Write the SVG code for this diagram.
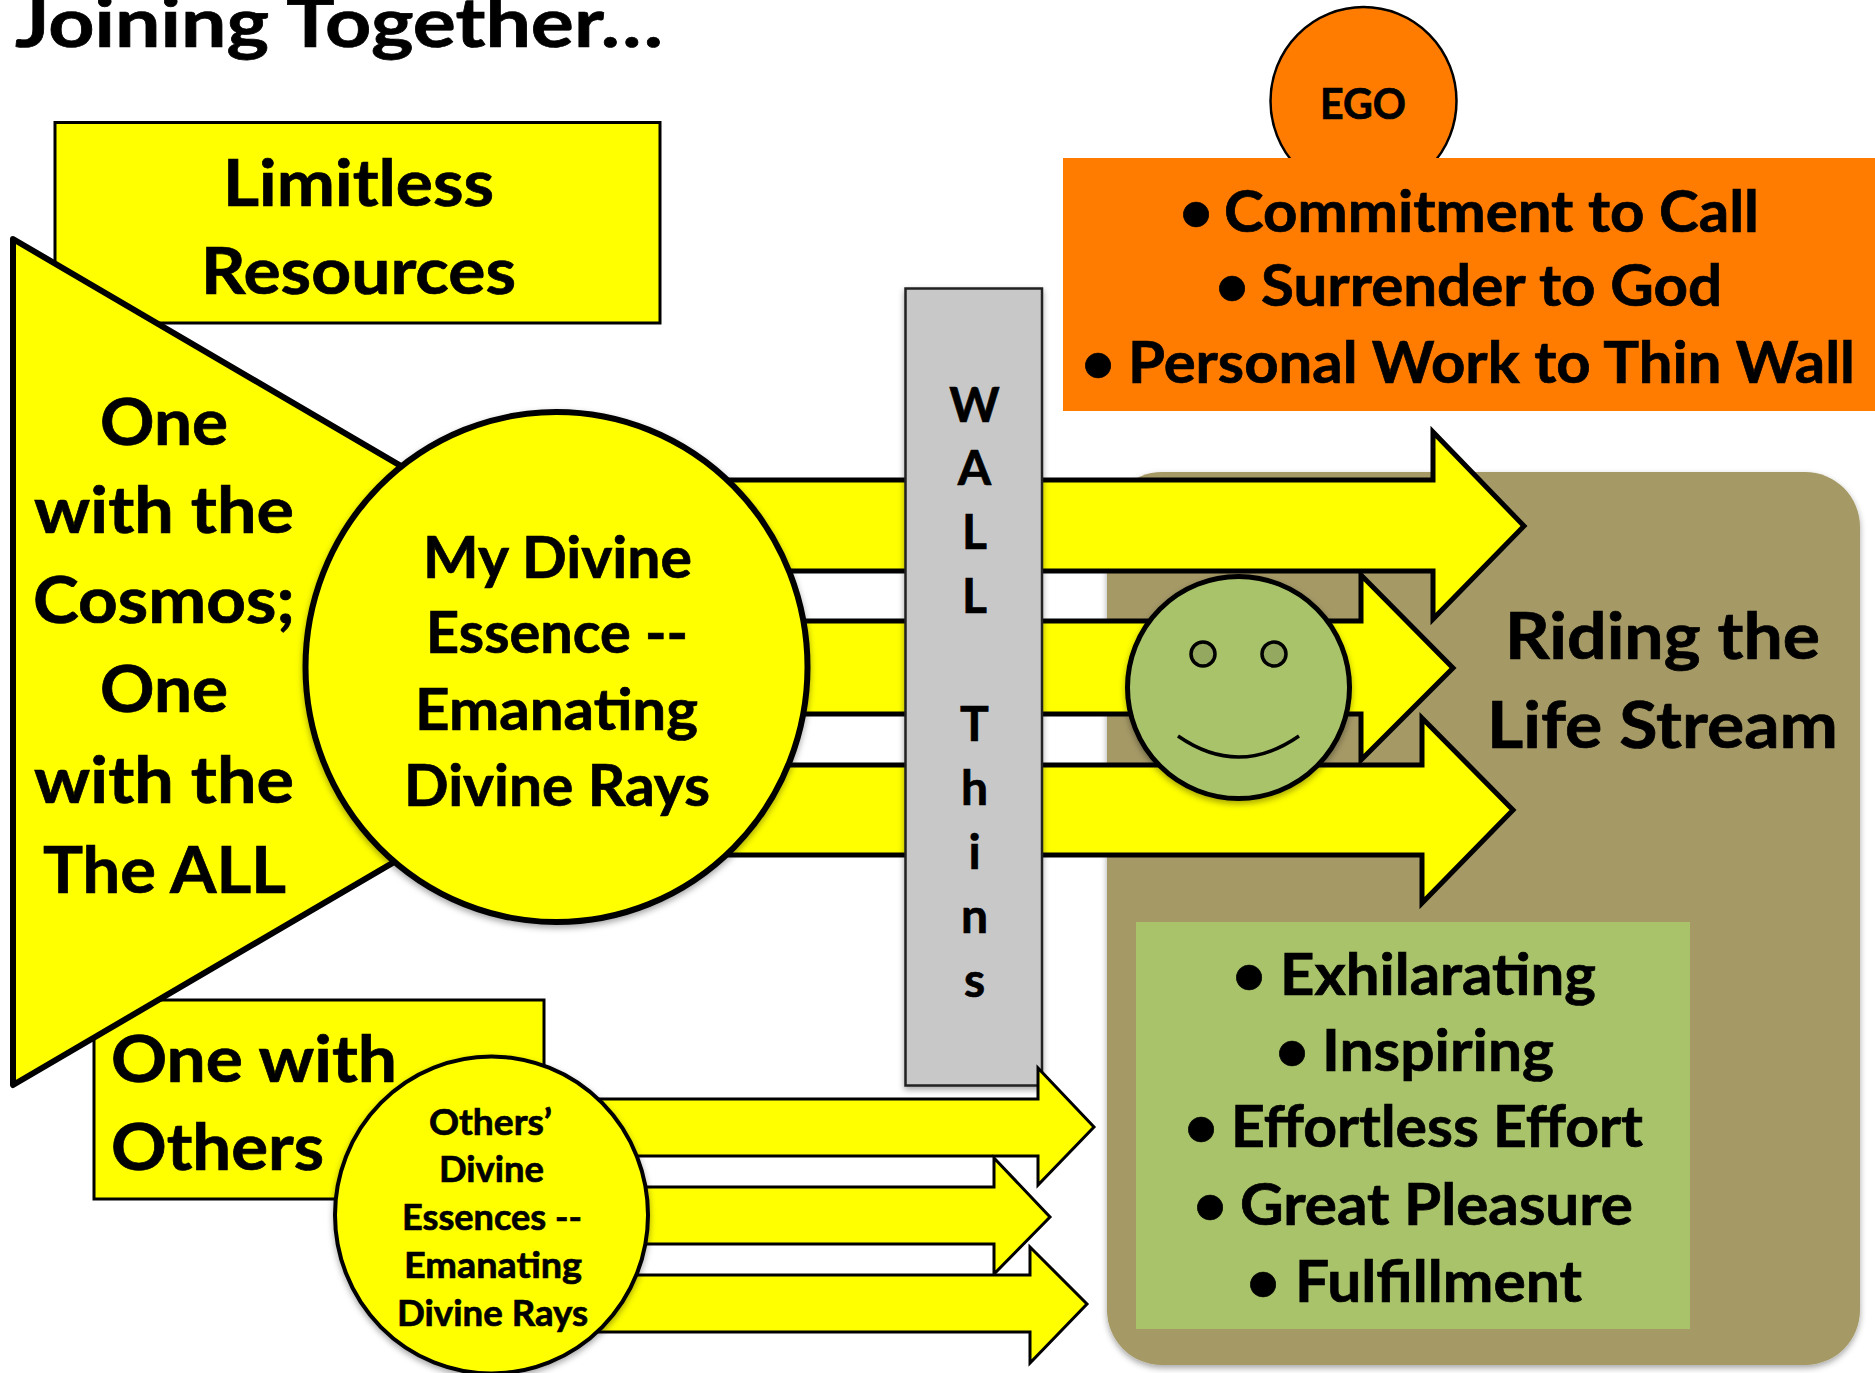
<svg xmlns="http://www.w3.org/2000/svg" width="1875" height="1373" viewBox="0 0 1875 1373">
<style>
text{font-family:"Lato","Liberation Sans",sans-serif;font-weight:700;fill:#000;stroke:#000;stroke-width:.7}
.y{fill:#ffff00;stroke:#000}
.big{stroke-width:5;stroke-linejoin:miter}
.thin{stroke-width:3}
.t64{font-size:65px}
.t56{font-size:57px}
.t35{font-size:37px}
.blt{font-size:58px}
</style>
<defs>
<filter id="sh" x="-10%" y="-10%" width="120%" height="120%"><feDropShadow dx="0" dy="3" stdDeviation="3" flood-color="#000" flood-opacity="0.35"/></filter>
</defs>
<rect width="1875" height="1373" fill="#fff"/>
<g id="title"><text x="15" y="47" textLength="648" lengthAdjust="spacingAndGlyphs" style="font-size:68px">Joining Together…</text></g>
<g id="limitless">
<rect class="y thin" x="55" y="122.500" width="605" height="200.500"/>
<text class="t64" x="223" y="206" textLength="271" lengthAdjust="spacingAndGlyphs">Limitless</text>
<text class="t64" x="201" y="294" textLength="315" lengthAdjust="spacingAndGlyphs">Resources</text>
</g>
<g id="others-box">
<rect class="y thin" x="94" y="1000" width="450" height="199"/>
<text class="t64" x="111" y="1082" textLength="286" lengthAdjust="spacingAndGlyphs">One with</text>
<text class="t64" x="111" y="1170" textLength="213" lengthAdjust="spacingAndGlyphs">Others</text>
</g>
<g id="cosmos">
<polygon class="y" stroke-width="6" stroke-linejoin="round" points="13,239 736,662 13,1085"/>
<text class="t64" x="100" y="445" textLength="128" lengthAdjust="spacingAndGlyphs">One</text>
<text class="t64" x="34" y="533" textLength="260" lengthAdjust="spacingAndGlyphs">with the</text>
<text class="t64" x="33" y="623" textLength="262" lengthAdjust="spacingAndGlyphs">Cosmos;</text>
<text class="t64" x="100" y="712" textLength="128" lengthAdjust="spacingAndGlyphs">One</text>
<text class="t64" x="34" y="803" textLength="260" lengthAdjust="spacingAndGlyphs">with the</text>
<text class="t64" x="43" y="893" textLength="243" lengthAdjust="spacingAndGlyphs">The ALL</text>
</g>
<g id="life-stream">
<rect x="1107" y="472" width="753" height="893" rx="55" fill="#a59966" filter="url(#sh)"/>
<text class="t64" x="1505" y="659" textLength="315" lengthAdjust="spacingAndGlyphs">Riding the</text>
<text class="t64" x="1487" y="748" textLength="351" lengthAdjust="spacingAndGlyphs">Life Stream</text>
</g>
<g id="connectors-main">
<polygon class="y big" points="700,480 1433,480 1433,432 1524,526 1433,619 1433,571 700,571"/>
<polygon class="y big" points="700,621 1361,621 1361,575 1453,668 1361,760 1361,714 700,714"/>
<polygon class="y big" points="700,765 1422,765 1422,718 1513,810 1422,903 1422,855 700,855"/>
</g>
<g id="my-essence">
<ellipse class="y" stroke-width="6" cx="556.500" cy="667" rx="251" ry="255" filter="url(#sh)"/>
<text class="t56" x="423" y="578" textLength="269" lengthAdjust="spacingAndGlyphs">My Divine</text>
<text class="t56" x="426" y="653" textLength="262" lengthAdjust="spacingAndGlyphs">Essence --</text>
<text class="t56" x="415" y="730" textLength="283" lengthAdjust="spacingAndGlyphs">Emanating</text>
<text class="t56" x="404" y="806" textLength="306" lengthAdjust="spacingAndGlyphs">Divine Rays</text>
</g>
<g id="wall">
<rect x="905.500" y="288.500" width="136.500" height="797" fill="#c8c8c8" stroke="#222" stroke-width="2.500" filter="url(#sh)"/>
<g text-anchor="middle" style="font-size:48px">
<text x="974.500" y="422">W</text>
<text x="974.500" y="485">A</text>
<text x="974.500" y="549">L</text>
<text x="974.500" y="613">L</text>
<text x="974.500" y="741">T</text>
<text x="974.500" y="805">h</text>
<text x="974.500" y="869">i</text>
<text x="974.500" y="933">n</text>
<text x="974.500" y="997">s</text>
</g>
</g>
<g id="ego">
<ellipse cx="1363.500" cy="101" rx="93" ry="94" fill="#ff7c00" stroke="#000" stroke-width="2.500"/>
<text x="1320" y="119" textLength="86" lengthAdjust="spacingAndGlyphs" style="font-size:42px">EGO</text>
</g>
<g id="practice">
<rect x="1063" y="158" width="812" height="253" fill="#ff7c00"/>
<text class="blt" x="1196" y="232" text-anchor="middle">•</text>
<text class="t56" x="1224" y="232" textLength="535" lengthAdjust="spacingAndGlyphs">Commitment to Call</text>
<text class="blt" x="1232" y="306" text-anchor="middle">•</text>
<text class="t56" x="1261" y="306" textLength="461" lengthAdjust="spacingAndGlyphs">Surrender to God</text>
<text class="blt" x="1098" y="383" text-anchor="middle">•</text>
<text class="t56" x="1128" y="383" textLength="727" lengthAdjust="spacingAndGlyphs">Personal Work to Thin Wall</text>
</g>
<g id="smiley">
<ellipse cx="1238.500" cy="687.500" rx="111" ry="111" fill="#a9c36a" stroke="#000" stroke-width="5" filter="url(#sh)"/>
<circle cx="1203" cy="654" r="12" fill="#95a85f" stroke="#000" stroke-width="3.500"/>
<circle cx="1274" cy="654" r="12" fill="#95a85f" stroke="#000" stroke-width="3.500"/>
<path d="M1178 736 Q1238.500 778 1299 736" fill="none" stroke="#000" stroke-width="3.500"/>
</g>
<g id="feelings">
<rect x="1136" y="922" width="554" height="407" fill="#a9c36a"/>
<text class="blt" x="1249" y="995" text-anchor="middle">•</text>
<text class="t56" x="1280" y="995" textLength="316" lengthAdjust="spacingAndGlyphs">Exhilarating</text>
<text class="blt" x="1292" y="1071" text-anchor="middle">•</text>
<text class="t56" x="1322" y="1071" textLength="232" lengthAdjust="spacingAndGlyphs">Inspiring</text>
<text class="blt" x="1201" y="1147" text-anchor="middle">•</text>
<text class="t56" x="1231" y="1147" textLength="412" lengthAdjust="spacingAndGlyphs">Effortless Effort</text>
<text class="blt" x="1210" y="1225" text-anchor="middle">•</text>
<text class="t56" x="1240" y="1225" textLength="393" lengthAdjust="spacingAndGlyphs">Great Pleasure</text>
<text class="blt" x="1263" y="1302" text-anchor="middle">•</text>
<text class="t56" x="1295" y="1302" textLength="287" lengthAdjust="spacingAndGlyphs">Fulfillment</text>
</g>
<g id="connectors-others">
<polygon class="y thin" points="560,1099 1038,1099 1038,1068 1094,1127 1038,1185 1038,1156 560,1156"/>
<polygon class="y thin" points="560,1187 994,1187 994,1158 1050,1217 994,1274 994,1244 560,1244"/>
<polygon class="y thin" points="560,1275 1030,1275 1030,1247 1087,1304 1030,1363 1030,1332 560,1332"/>
</g>
<g id="others-essence">
<ellipse class="y" stroke-width="4" cx="491.500" cy="1215" rx="156.500" ry="158.500" filter="url(#sh)"/>
<text class="t35" x="429" y="1135" textLength="123" lengthAdjust="spacingAndGlyphs">Others’</text>
<text class="t35" x="439" y="1182" textLength="105" lengthAdjust="spacingAndGlyphs">Divine</text>
<text class="t35" x="402" y="1230" textLength="180" lengthAdjust="spacingAndGlyphs">Essences --</text>
<text class="t35" x="404" y="1278" textLength="178" lengthAdjust="spacingAndGlyphs">Emanating</text>
<text class="t35" x="397" y="1326" textLength="191" lengthAdjust="spacingAndGlyphs">Divine Rays</text>
</g>
</svg>
